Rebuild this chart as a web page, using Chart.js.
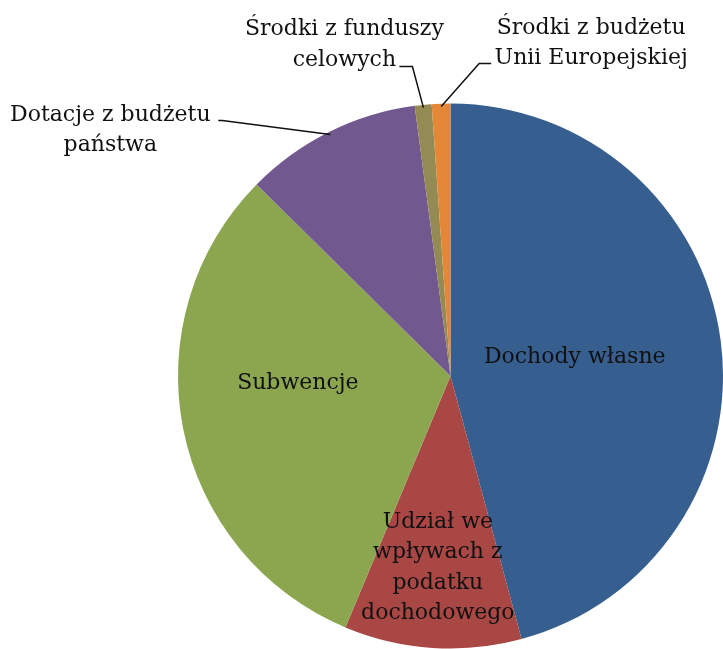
<!DOCTYPE html>
<html>
<head>
<meta charset="utf-8">
<script src="https://cdn.jsdelivr.net/npm/chart.js@4/dist/chart.umd.min.js"></script>
<style>
  html, body { margin: 0; padding: 0; background: #ffffff; }
  #wrap { width: 723px; height: 649px; position: relative; }
</style>
</head>
<body>
<div id="wrap"><canvas id="c" width="723" height="649"></canvas></div>
<script>
// ---- data ----
const categories = [
  ['Dochody własne'],
  ['Udział we', 'wpływach z', 'podatku', 'dochodowego'],
  ['Subwencje'],
  ['Dotacje z budżetu', 'państwa'],
  ['Środki z funduszy', 'celowych'],
  ['Środki z budżetu', 'Unii Europejskiej']
];
const shares = [45.8, 10.5, 31.1, 10.5, 1.0, 1.1];

// ---- styling ----
const sliceColors = ['#365E8F', '#A94745', '#8CA650', '#71588E', '#948A54', '#E48838'];
const FONT = '22px "DejaVu Serif"';
const LINE_H = 30.5;
// label placement: inside (fraction of radius + nudge) or outside (leader line)
const labelStyle = [
  { mode: 'inside', frac: 0.46, dx: 0, dy: -2 },
  { mode: 'inside', frac: 0.705, dx: 0, dy: 0 },
  { mode: 'inside', frac: 0.56, dx: -3, dy: -23 },
  { mode: 'outside', knee: [-108, -14], end: [-4, 0], text: [-108, 10] },
  { mode: 'outside', knee: [-11, -41], end: [-13, 0], text: [-55, -22] },
  { mode: 'outside', knee: [38, -43], end: [12, 0], text: [100, -20] }
];

const labelPlugin = {
  id: 'sliceLabels',
  afterDatasetsDraw(chart) {
    const ctx = chart.ctx;
    const meta = chart.getDatasetMeta(0);
    ctx.save();
    ctx.font = FONT;
    ctx.fillStyle = '#111111';
    ctx.textAlign = 'center';
    ctx.textBaseline = 'middle';
    meta.data.forEach((arc, i) => {
      const p = arc.getProps(['x', 'y', 'startAngle', 'endAngle', 'outerRadius'], true);
      const mid = (p.startAngle + p.endAngle) / 2;
      const st = labelStyle[i];
      const lines = chart.data.labels[i];
      let cx, cy;
      if (st.mode === 'inside') {
        cx = p.x + Math.cos(mid) * p.outerRadius * st.frac + st.dx;
        cy = p.y + Math.sin(mid) * p.outerRadius * st.frac + st.dy;
      } else {
        const ex = p.x + Math.cos(mid) * p.outerRadius * 0.99;
        const ey = p.y + Math.sin(mid) * p.outerRadius * 0.99;
        const kx = ex + st.knee[0], ky = ey + st.knee[1];
        const lx = kx + st.end[0], ly = ky + st.end[1];
        ctx.beginPath();
        ctx.strokeStyle = '#111111';
        ctx.lineWidth = 1.5;
        ctx.moveTo(ex, ey);
        ctx.lineTo(kx, ky);
        ctx.lineTo(lx, ly);
        ctx.stroke();
        cx = lx + st.text[0];
        cy = ly + st.text[1];
      }
      const top = cy - (lines.length - 1) * LINE_H / 2;
      lines.forEach((ln, j) => ctx.fillText(ln, cx, top + j * LINE_H));
    });
    ctx.restore();
  }
};

new Chart(document.getElementById('c'), {
  type: 'pie',
  data: {
    labels: categories,
    datasets: [{
      data: shares,
      backgroundColor: sliceColors,
      borderWidth: 0,
      hoverOffset: 0,
      offset: 0
    }]
  },
  options: {
    responsive: false,
    animation: false,
    layout: { padding: { top: 103, left: 178, right: 0, bottom: 0 } },
    plugins: {
      legend: { display: false },
      tooltip: { enabled: false },
      title: { display: false }
    },
    events: []
  },
  plugins: [labelPlugin]
});
</script>
</body>
</html>
